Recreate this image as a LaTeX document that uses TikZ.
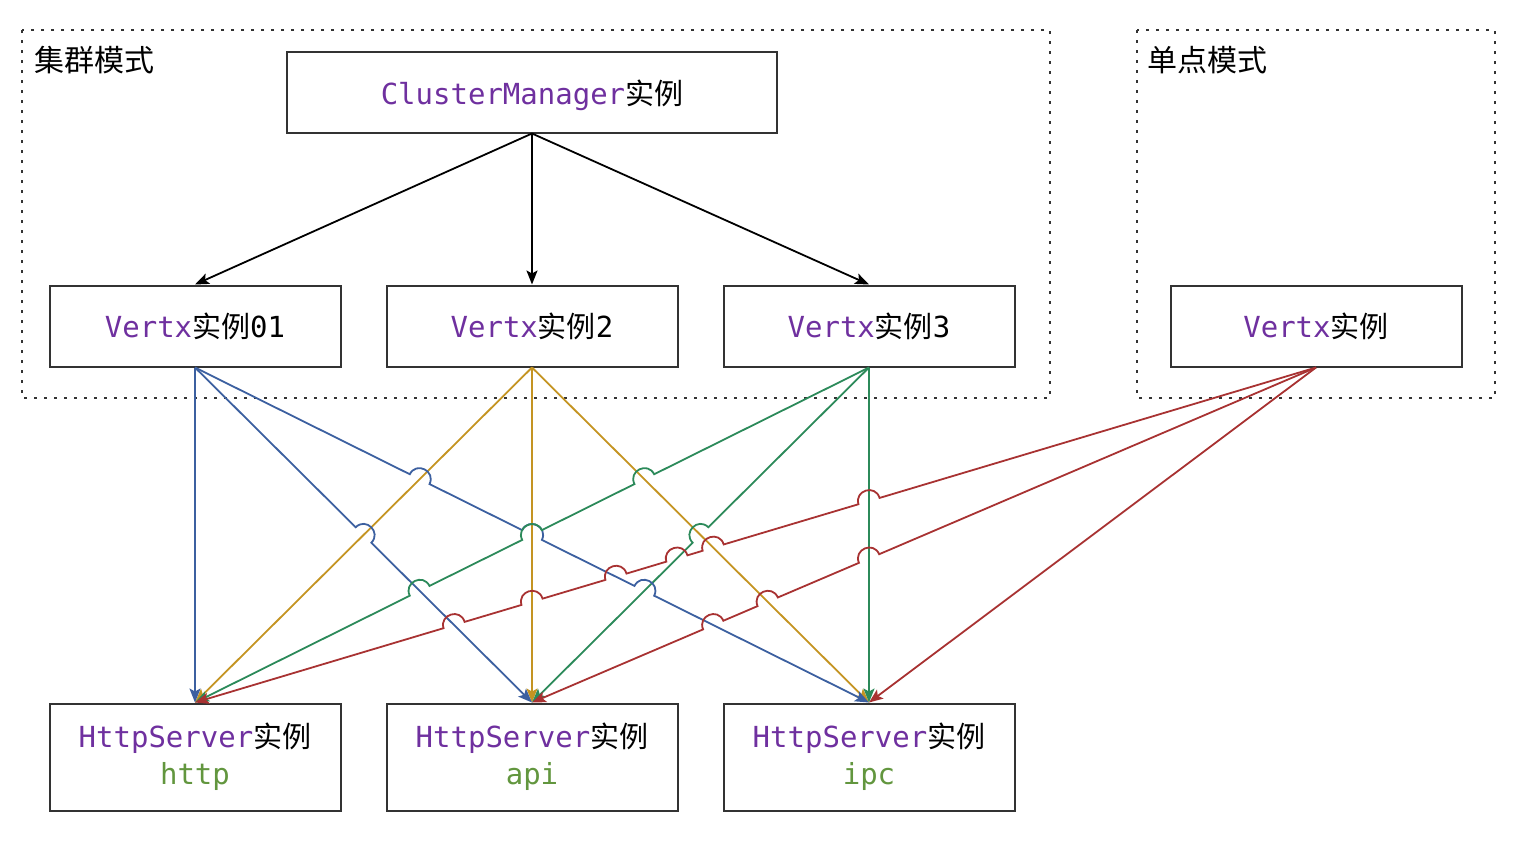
\documentclass[tikz,border=0pt]{standalone}
\usepackage{fontspec}
\setmonofont{DejaVu Sans Mono}
\newfontfamily\cjk{Noto Sans CJK SC}
\usetikzlibrary{arrows.meta,calc}
\newcommand{\kw}[1]{\textcolor{kwcolor}{#1}}
\newcommand{\zh}[1]{{\cjk #1}}
\newcommand{\nm}[1]{\textcolor{namecolor}{#1}}
\newcommand{\hoprad}{11pt}
% line jump: -- foot, half circle, foot
\newcommand{\hop}[4]{-- ($(#1)!\hoprad!(#2)$) to[bend #4=90, looseness=1.7] ($(#1)!\hoprad!(#3)$)}
\begin{document}
\begin{tikzpicture}[x=1pt,y=-1pt,
		font=\ttfamily\fontsize{29}{40}\selectfont,
		box/.style={draw=boxcolor, line width=2pt, inner sep=0pt, minimum width=291pt, minimum height=81pt, align=center},
		group/.style={draw=boxcolor, line width=2pt, dash pattern=on 3pt off 7pt},
		link/.style={line width=1.8pt, -{Stealth[length=14pt,width=11pt,inset=3pt]}}]
		% Define colors
		\definecolor{kwcolor}{RGB}{111,48,159}
		\definecolor{namecolor}{RGB}{98,150,62}
		\definecolor{boxcolor}{RGB}{51,51,51}
		\definecolor{blueedge}{RGB}{60,96,160}
		\definecolor{goldedge}{RGB}{196,148,34}
		\definecolor{greenedge}{RGB}{44,138,90}
		\definecolor{rededge}{RGB}{168,50,50}
		\useasboundingbox (0,0) rectangle (1526,854);
		% Group frames
		\draw[group] (22,30) rectangle (1050,398);
		\draw[group] (1137,30) rectangle (1495,398);
		\node[anchor=west, font=\cjk\fontsize{30}{36}\selectfont] (tcluster) at (31,60) {集群模式};
		\node[anchor=west, font=\cjk\fontsize{30}{36}\selectfont] (tsingle) at (1144,60) {单点模式};
		% Instances
		\node[box, minimum width=490pt, text depth=0pt] (cm) at (532,92) {\kw{ClusterManager}\zh{实例}};
		\node[box] (v01) at (195,326) {\kw{Vertx}\zh{实例}01};
		\node[box] (v2) at (532,326) {\kw{Vertx}\zh{实例}2};
		\node[box] (v3) at (869,326) {\kw{Vertx}\zh{实例}3};
		\node[box] (vs) at (1316,326) {\kw{Vertx}\zh{实例}};
		\node[box, minimum height=107pt] (http) at (195,757) {\kw{HttpServer}\zh{实例}\\[-3pt]\nm{http}};
		\node[box, minimum height=107pt] (api) at (532,757) {\kw{HttpServer}\zh{实例}\\[-3pt]\nm{api}};
		\node[box, minimum height=107pt] (ipc) at (869,757) {\kw{HttpServer}\zh{实例}\\[-3pt]\nm{ipc}};
		% End points of the links
		\coordinate (o01) at (v01.south);
		\coordinate (o2) at (v2.south);
		\coordinate (o3) at (v3.south);
		\coordinate (os) at (vs.south);
		\coordinate (ihttp) at (http.north);
		\coordinate (iapi) at (api.north);
		\coordinate (iipc) at (ipc.north);
		% Crossings
		\coordinate (b2g1) at (intersection of o01--iapi and o2--ihttp);
		\coordinate (b3g1) at (intersection of o01--iipc and o2--ihttp);
		\coordinate (b3g2) at (intersection of o01--iipc and o2--iapi);
		\coordinate (b3n2) at (intersection of o01--iipc and o3--iapi);
		\coordinate (n1g3) at (intersection of o3--ihttp and o2--iipc);
		\coordinate (n1g2) at (intersection of o3--ihttp and o2--iapi);
		\coordinate (n1b2) at (intersection of o3--ihttp and o01--iapi);
		\coordinate (n2g3) at (intersection of o3--iapi and o2--iipc);
		\coordinate (r1n3) at (intersection of os--ihttp and o3--iipc);
		\coordinate (r1g3) at (intersection of os--ihttp and o2--iipc);
		\coordinate (r1n2) at (intersection of os--ihttp and o3--iapi);
		\coordinate (r1b3) at (intersection of os--ihttp and o01--iipc);
		\coordinate (r1g2) at (intersection of os--ihttp and o2--iapi);
		\coordinate (r1b2) at (intersection of os--ihttp and o01--iapi);
		\coordinate (r2n3) at (intersection of os--iapi and o3--iipc);
		\coordinate (r2g3) at (intersection of os--iapi and o2--iipc);
		\coordinate (r2b3) at (intersection of os--iapi and o01--iipc);
		% ClusterManager to Vertx
		\draw[link, black] (cm.south) -- (v01.north);
		\draw[link, black] (cm.south) -- (v2.north);
		\draw[link, black] (cm.south) -- (v3.north);
		% Vertx2 (gold)
		\draw[link, goldedge] (o2) -- (ihttp);
		\draw[link, goldedge] (o2) -- (iapi);
		\draw[link, goldedge] (o2) -- (iipc);
		% Vertx3 to api (green)
		\draw[link, greenedge] (o3) \hop{n2g3}{o3}{iapi}{right} -- (iapi);
		% Vertx01 (blue)
		\draw[link, blueedge] (o01) -- (ihttp);
		\draw[link, blueedge] (o01) \hop{b2g1}{o01}{iapi}{left} -- (iapi);
		\draw[link, blueedge] (o01) \hop{b3g1}{o01}{iipc}{left} \hop{b3g2}{o01}{iipc}{left} \hop{b3n2}{o01}{iipc}{left} -- (iipc);
		% Vertx3 (green)
		\draw[link, greenedge] (o3) \hop{n1g3}{o3}{ihttp}{right} \hop{n1g2}{o3}{ihttp}{right} \hop{n1b2}{o3}{ihttp}{right} -- (ihttp);
		\draw[link, greenedge] (o3) -- (iipc);
		% single Vertx (red)
		\draw[link, rededge] (os) \hop{r1n3}{os}{ihttp}{right} \hop{r1g3}{os}{ihttp}{right} \hop{r1n2}{os}{ihttp}{right} \hop{r1b3}{os}{ihttp}{right} \hop{r1g2}{os}{ihttp}{right} \hop{r1b2}{os}{ihttp}{right} -- (ihttp);
		\draw[link, rededge] (os) \hop{r2n3}{os}{iapi}{right} \hop{r2g3}{os}{iapi}{right} \hop{r2b3}{os}{iapi}{right} -- (iapi);
		\draw[link, rededge] (os) -- (iipc);
	\end{tikzpicture}
\end{document}
